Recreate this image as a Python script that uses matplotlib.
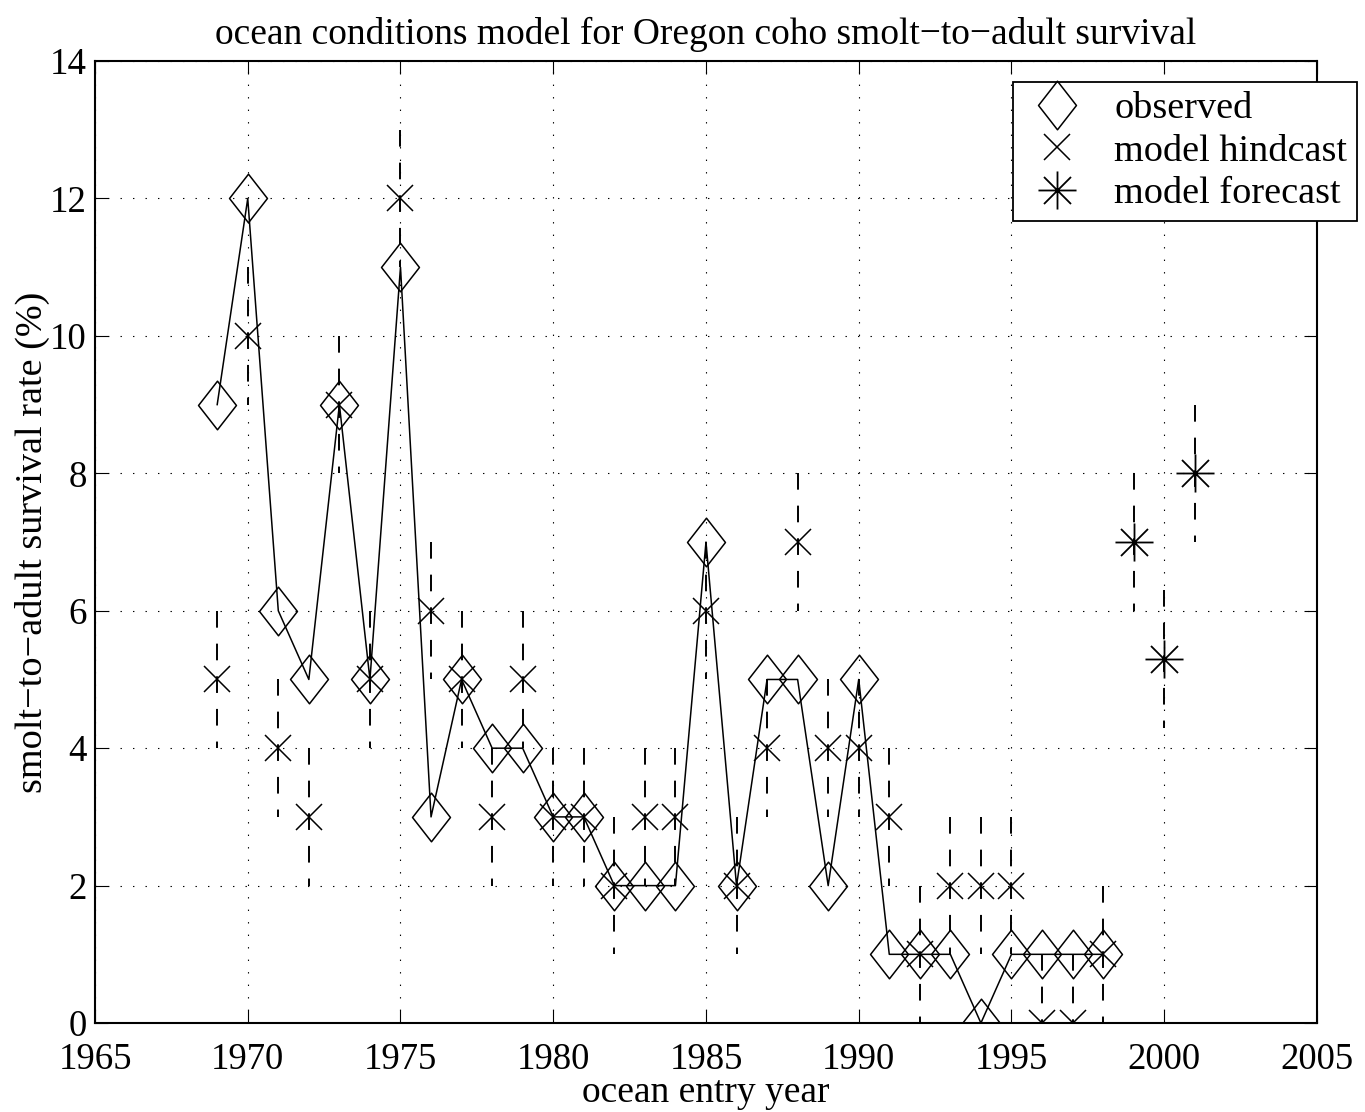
"""
    Oregon coho smolt-to-adult survival: observed vs. ocean conditions model
"""
import matplotlib
matplotlib.use('Agg')
import matplotlib.pyplot as plt
from matplotlib.path import Path

# observed survival (%)
obs_years = list(range(1969, 1999))
observed = [9, 12, 6, 5, 9, 5, 11, 3, 5, 4, 4, 3, 3, 2, 2, 2, 7, 2, 5, 5,
            2, 5, 1, 1, 1, 0, 1, 1, 1, 1]

# model hindcast (%) with +/- error
hind_years = list(range(1969, 1999))
hindcast = [5, 10, 4, 3, 9, 5, 12, 6, 5, 3, 5, 3, 3, 2, 3, 3, 6, 2, 4, 7,
            4, 4, 3, 1, 2, 2, 2, 0, 0, 1]
hind_err = [1] * len(hindcast)

# model forecast (%) with +/- error
fore_years = [1999, 2000, 2001]
forecast = [7, 5.3, 8]
fore_err = [1, 1, 1]

plt.rcParams['font.family'] = ['Liberation Serif', 'DejaVu Serif']
plt.rcParams['lines.scale_dashes'] = False

# MATLAB-like markers
diamond = Path([(0, 1), (0.78, 0), (0, -1), (-0.78, 0), (0, 1)],
               [Path.MOVETO, Path.LINETO, Path.LINETO, Path.LINETO, Path.CLOSEPOLY])
d = 0.71
star = Path([(-1, 0), (1, 0), (0, -1), (0, 1), (-d, -d), (d, d), (-d, d), (d, -d)],
            [Path.MOVETO, Path.LINETO] * 4)

fig = plt.figure(figsize=(13.65, 11.12), dpi=100)
ax = fig.add_axes([0.0696, 0.080, 0.8952, 0.8651])

dash = (0, (12, 11.5))

# error bars, drawn top to bottom
for x, y, e in zip(hind_years, hindcast, hind_err):
    ax.plot([x, x], [y + e, y - e], color='k', lw=1.4, linestyle=dash)
for x, y, e in zip(fore_years, forecast, fore_err):
    ax.plot([x, x], [y + e, y - e], color='k', lw=1.4, linestyle=dash)

ax.plot(obs_years, observed, color='k', lw=1.1)
h_obs, = ax.plot(obs_years, observed, linestyle='none', marker=diamond, ms=35,
                 mfc='none', mec='k', mew=1.1, label='observed')
h_hind, = ax.plot(hind_years, hindcast, linestyle='none', marker='x', ms=18.7,
                  mec='k', mew=1.1, label='model hindcast')
h_fore, = ax.plot(fore_years, forecast, linestyle='none', marker=star, ms=27.4,
                  mfc='none', mec='k', mew=1.3, label='model forecast')

ax.set_xlim(1965, 2005)
ax.set_ylim(0, 14)
ax.set_xticks(range(1965, 2006, 5))
ax.set_yticks(range(0, 15, 2))
ax.grid(True, color='k', linestyle=(0, (1, 8)), lw=0.8)
ax.tick_params(direction='in', length=9.5, width=0.8, top=True, right=True,
               labelsize=26.5)
ax.tick_params(axis='x', pad=14)
ax.tick_params(axis='y', pad=6)
for s in ax.spines.values():
    s.set_linewidth(1.5)

ax.set_title('ocean conditions model for Oregon coho smolt\u2212to\u2212adult survival',
             fontsize=27, pad=12)
ax.set_xlabel('ocean entry year', fontsize=27, labelpad=-1)
ax.set_ylabel('smolt\u2212to\u2212adult survival rate (%)', fontsize=27.5, labelpad=0)

leg = ax.legend(handles=[h_obs, h_hind, h_fore], loc='upper left',
                bbox_to_anchor=(1013 / 1365, 1 - 82 / 1112), bbox_transform=fig.transFigure,
                fontsize=27.5, frameon=True, fancybox=False, framealpha=1,
                edgecolor='k', borderpad=0.25, labelspacing=0.2, handlelength=1.8,
                handletextpad=0.6, borderaxespad=0)
leg.get_frame().set_linewidth(1.3)

fig.savefig('out.png', dpi=100)
